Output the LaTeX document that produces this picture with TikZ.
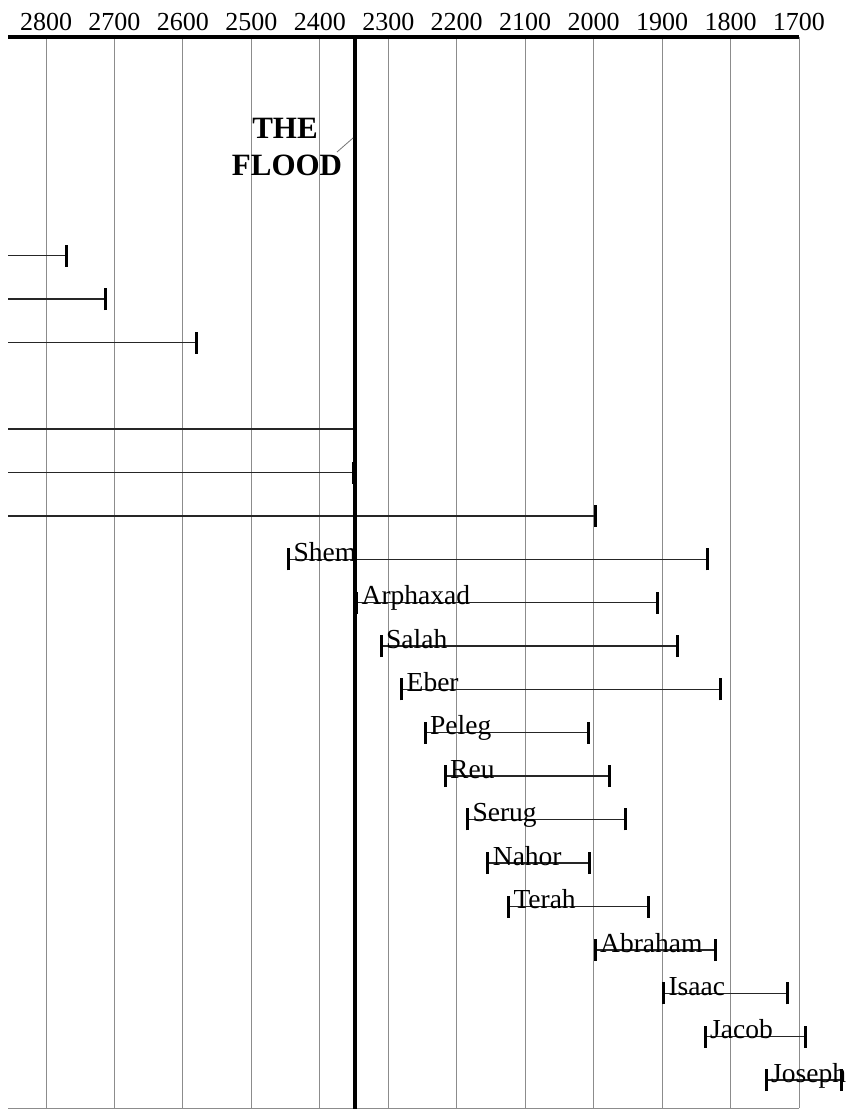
\documentclass[tikz,border=0pt]{standalone}
\usepackage{fontspec}
\setmainfont{Liberation Serif}
\begin{document}
\begin{tikzpicture}[x=1pt,y=-1pt,
  gridline/.style={draw=black!45, line width=0.9pt},
  lifeline/.style={draw=black!85, line width=1.4pt},
  endtick/.style={draw=black, line width=3pt},
  yearlbl/.style={font=\fontsize{26}{28}\selectfont, anchor=base, inner sep=0pt},
  namelbl/.style={font=\fontsize{27.5}{29}\selectfont, anchor=base west, inner sep=0pt},
  floodlbl/.style={font=\fontsize{31}{33}\selectfont\bfseries, anchor=base, inner sep=0pt},
]
\useasboundingbox (0,0) rectangle (846,1109);
% grid and year labels
\foreach \yr [count=\i from 0] in {2800,2700,2600,2500,2400,2300,2200,2100,2000,1900,1800,1700}{
  \coordinate (gt\i) at ({46+\i*68.45},37);
  \coordinate (gb\i) at ({46+\i*68.45},1108);
  \draw[gridline] (gt\i) -- (gb\i);
  \node[yearlbl] (yr\i) at ({46+\i*68.45},30) {\yr};
}
\coordinate (bl) at (8,1108);
\coordinate (br) at (799,1108);
\draw[gridline] (bl) -- (br);
% unlabeled bars
\foreach \yy/\xb/\t [count=\k] in {255.5/66.5/1, 299/105.5/1, 342.5/196.5/1, 429/355/0, 472.5/353/1, 516/595/1}{
  \coordinate (us\k) at (8,\yy);
  \coordinate (ue\k) at (\xb,\yy);
  \draw[lifeline] (us\k) -- (ue\k);
  \ifnum\t=1
    \draw[endtick] ([yshift=-11pt]ue\k) -- ([yshift=11pt]ue\k);
  \fi
}
% labeled bars
\foreach \yy/\xa/\xb/\lab [count=\k] in {
  559.3/288.5/707.5/Shem,
  602.7/356.5/657.7/Arphaxad,
  646/381/677.5/Salah,
  689.3/401.5/720/Eber,
  732.7/425/588.7/Peleg,
  776/445/609.3/Reu,
  819.3/467.3/625/Serug,
  863/487.7/589.3/Nahor,
  906.5/508.3/648.3/Terah,
  950/595/715/Abraham,
  993.3/663.3/787.3/Isaac,
  1036.7/705/805.7/Jacob,
  1080/766/841.7/Joseph}{
  \coordinate (ls\k) at (\xa,\yy);
  \coordinate (le\k) at (\xb,\yy);
  \draw[lifeline] (ls\k) -- (le\k);
  \draw[endtick] ([yshift=-11pt]ls\k) -- ([yshift=11pt]ls\k);
  \draw[endtick] ([yshift=-11pt]le\k) -- ([yshift=11pt]le\k);
  \node[namelbl] (lab\k) at ([xshift=5pt,yshift=-2pt]ls\k) {\lab};
}
% axis
\coordinate (al) at (8,37);
\coordinate (ar) at (799,37);
\draw[line width=3.5pt] (al) -- (ar);
% flood
\coordinate (ft) at (355,37);
\coordinate (fb) at (355,1109);
\draw[line width=4.5pt] (ft) -- (fb);
\node[floodlbl] (the) at (285,138) {THE};
\node[floodlbl] (floodtxt) at (287,175) {FLOOD};
\coordinate (leadA) at (337,152);
\coordinate (leadB) at (353,138);
\draw[draw=black!55, line width=0.8pt] (leadA) -- (leadB);
\end{tikzpicture}
\end{document}
